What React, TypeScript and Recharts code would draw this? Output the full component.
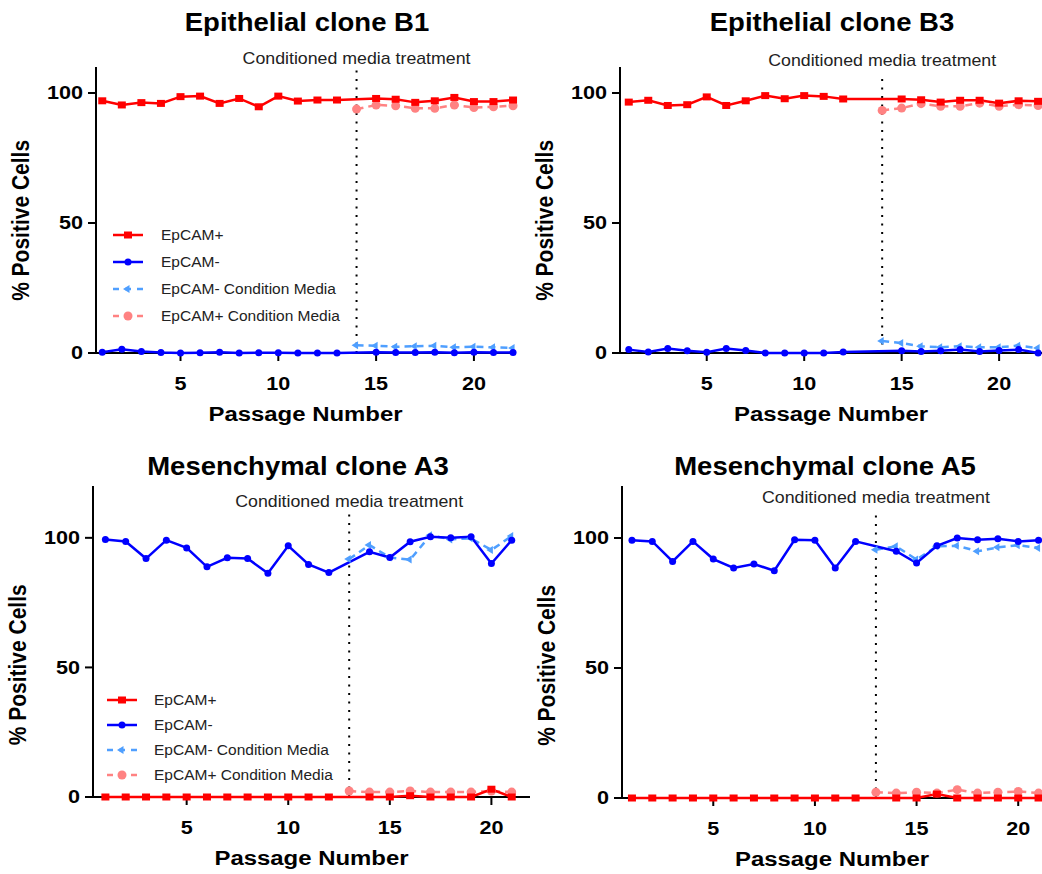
import React from "react";
import { LineChart, Line, XAxis, YAxis, ReferenceLine, Legend } from "recharts";

const FONT = "'Liberation Sans', Arial, sans-serif";
const RED = "#ff0000";
const BLUE = "#0000ff";
const LIGHT_BLUE = "#4f9fff";
const PINK = "#ff8282";
// the source figure is slightly wider than tall, text included
const SX = 1.14;
const TICK_SX = 1.2;

// passages
const epiPassages = [1, 2, 3, 4, 5, 6, 7, 8, 9, 10, 11, 12, 13, 14, 15, 16, 17, 18, 19, 20, 21, 22];
const mesPassages = [1, 2, 3, 4, 5, 6, 7, 8, 9, 10, 11, 12, 13, 14, 15, 16, 17, 18, 19, 20, 21];

// Epithelial clone B1
const b1Pos = [97.0, 95.4, 96.3, 96.0, 98.6, 98.8, 96.0, 97.9, 94.7, 98.8, 96.9, 97.3, 97.3, null, 97.9, 97.6, 96.4, 97.0, 98.3, 96.7, 96.7, 97.3];
const b1Neg = [0.3, 1.4, 0.6, 0.2, 0, 0.1, 0.3, 0, 0.1, 0.1, 0, 0, 0, null, 0.3, 0.2, 0.2, 0.3, 0.1, 0.3, 0.2, 0.2];
const b1NegCM = [null, null, null, null, null, null, null, null, null, null, null, null, null, 3.0, 2.8, 2.4, 2.6, 2.8, 2.2, 2.4, 2.2, 1.9];
const b1PosCM = [null, null, null, null, null, null, null, null, null, null, null, null, null, 93.8, 95.4, 95.1, 94.1, 94.1, 95.4, 94.4, 94.7, 95.1];

// Epithelial clone B3
const b3Pos = [96.5, 97.2, 95.2, 95.5, 98.5, 95.2, 97.0, 99.0, 97.8, 99.0, 98.7, 97.7, null, null, 97.7, 97.4, 96.5, 97.2, 97.2, 96.1, 97.0, 96.8];
const b3Neg = [1.3, 0.4, 1.7, 0.9, 0.3, 1.7, 1.0, 0, 0, 0, 0, 0.4, null, null, 0.9, 0.6, 0.9, 1.3, 0.6, 1.0, 1.3, 0];
const b3NegCM = [null, null, null, null, null, null, null, null, null, null, null, null, null, 4.6, 3.8, 2.6, 2.2, 2.6, 2.2, 2.2, 2.8, 1.9];
const b3PosCM = [null, null, null, null, null, null, null, null, null, null, null, null, null, 93.3, 94.2, 95.9, 94.9, 94.9, 96.1, 94.9, 95.5, 95.2];

// Mesenchymal clone A3
const a3Pos = [0, 0, 0, 0, 0, 0, 0, 0, 0, 0, 0, 0, null, 0, 0, 0.5, 0, 0, 0, 3.0, 0];
const a3Neg = [99.4, 98.6, 92.0, 99.1, 96.1, 88.8, 92.3, 92.0, 86.3, 96.9, 89.7, 86.6, null, 94.6, 92.4, 98.5, 100.4, 100.0, 100.4, 90.1, 99.1];
const a3NegCM = [null, null, null, null, null, null, null, null, null, null, null, null, 91.8, 97.2, 92.4, 91.6, 101.0, 99.4, 99.8, 95.3, 100.7];
const a3PosCM = [null, null, null, null, null, null, null, null, null, null, null, null, 2.3, 1.9, 1.9, 2.3, 1.9, 1.9, 1.9, 2.3, 1.9];

// Mesenchymal clone A5
const a5Pos = [0, 0, 0, 0, 0, 0, 0, 0, 0, 0, 0, 0, null, 0, 0, 1.5, 0, 0, 0, 0, 0];
const a5Neg = [99.1, 98.7, 91.0, 98.7, 91.9, 88.5, 90.0, 87.4, 99.3, 99.1, 88.5, 98.7, null, 94.9, 90.4, 97.0, 100.0, 99.3, 99.7, 98.7, 99.1];
const a5NegCM = [null, null, null, null, null, null, null, null, null, null, null, null, 95.5, 96.8, 91.7, 96.8, 97.0, 94.9, 96.4, 97.2, 96.2];
const a5PosCM = [null, null, null, null, null, null, null, null, null, null, null, null, 2.2, 1.9, 2.2, 1.9, 3.2, 1.9, 2.2, 2.5, 1.9];

const xTicks = [5, 10, 15, 20];
const yTicks = [0, 50, 100];

const buildRows = (xs: number[], pos: any[], neg: any[], posCM: any[], negCM: any[]) =>
  xs.map((x, i) => ({ x, pos: pos[i], neg: neg[i], posCM: posCM[i], negCM: negCM[i] }));

// markers
const squareDot = (p: any) =>
  p.cy == null ? <g key={p.index} /> : <rect key={p.index} x={p.cx - 4} y={p.cy - 3.5} width={8} height={7} fill={RED} />;
const circleDot = (p: any) =>
  p.cy == null ? <g key={p.index} /> : <circle key={p.index} cx={p.cx} cy={p.cy} r={3.5} fill={BLUE} />;
const arrowDot = (p: any) =>
  p.cy == null ? (
    <g key={p.index} />
  ) : (
    <path key={p.index} d={`M${p.cx - 5},${p.cy} L${p.cx + 1.5},${p.cy - 4} L${p.cx + 1.5},${p.cy + 4} Z`} fill={LIGHT_BLUE} />
  );
const bigDot = (p: any) =>
  p.cy == null ? <g key={p.index} /> : <circle key={p.index} cx={p.cx} cy={p.cy} r={4.5} fill={PINK} />;

const boldText = { fontFamily: FONT, fontWeight: 700, fill: "#000" };

const XTick = (p: any) => (
  <g transform={`translate(${p.x},${p.y}) scale(${TICK_SX},1)`}>
    <text textAnchor="middle" dy="0.71em" fontSize={18} {...boldText}>
      {p.payload.value}
    </text>
  </g>
);

const YTick = (p: any) => (
  <g transform={`translate(${p.x},${p.y}) scale(${TICK_SX},1)`}>
    <text textAnchor="end" dy="0.355em" fontSize={18} {...boldText}>
      {p.payload.value}
    </text>
  </g>
);

const legendItems = [
  { label: "EpCAM+", color: RED, dash: undefined, marker: "square" },
  { label: "EpCAM-", color: BLUE, dash: undefined, marker: "circle" },
  { label: "EpCAM- Condition Media", color: LIGHT_BLUE, dash: "6 6", marker: "arrow" },
  { label: "EpCAM+ Condition Media", color: PINK, dash: "6 6", marker: "big" },
];

const LegendBox = ({ rowH, gap }: { rowH: number; gap: number }) => (
  <div style={{ fontFamily: FONT, fontSize: 15.5, color: "#222" }}>
    {legendItems.map((it) => (
      <div key={it.label} style={{ height: rowH, display: "flex", alignItems: "center", whiteSpace: "nowrap" }}>
        <svg width={30} height={12} style={{ marginRight: gap }}>
          <line x1={0} y1={6} x2={30} y2={6} stroke={it.color} strokeWidth={2.5} strokeDasharray={it.dash} />
          {it.marker === "square" && <rect x={11} y={2.5} width={8} height={7} fill={it.color} />}
          {it.marker === "circle" && <circle cx={15} cy={6} r={3.5} fill={it.color} />}
          {it.marker === "arrow" && <path d="M10,6 L16.5,2 L16.5,10 Z" fill={it.color} />}
          {it.marker === "big" && <circle cx={15} cy={6} r={4.5} fill={it.color} />}
        </svg>
        <span>{it.label}</span>
      </div>
    ))}
  </div>
);

const YW = 92;
const TOPM = 30;
const XH = 80;

interface PanelProps {
  rows: any[];
  x0: number;
  x1: number;
  y0: number;
  y1: number;
  xDomain: [number, number];
  yMax: number;
  refX: number;
  refTop: number;
  refOffset: number;
  legend?: { left: number; top: number; rowH: number; gap: number };
}

const Panel = ({ rows, x0, x1, y0, y1, xDomain, yMax, refX, refTop, refOffset, legend }: PanelProps) => {
  const left = x0 - YW;
  const top = y0 - TOPM;
  const width = YW + (x1 - x0) + 6;
  const height = TOPM + (y1 - y0) + XH;
  const labelCenter = y1 - (51 * (y1 - y0)) / yMax;

  const xLabel = (p: any) => {
    const vb = p.viewBox;
    return (
      <g transform={`translate(${vb.x + vb.width / 2},${vb.y + vb.height - 12}) scale(${SX},1)`}>
        <text textAnchor="middle" fontSize={21} {...boldText}>
          Passage Number
        </text>
      </g>
    );
  };
  const yLabel = () => (
    <g transform={`translate(${YW - 76},${labelCenter - top}) rotate(-90) scale(1,${SX})`}>
      <text textAnchor="middle" dy="0.355em" fontSize={21} {...boldText}>
        % Positive Cells
      </text>
    </g>
  );
  const refLabel = (p: any) => {
    const vb = p.viewBox || {};
    const cx = (vb.x ?? 0) + (vb.width ?? 0) / 2;
    return (
      <g transform={`translate(${cx},${vb.y - refOffset}) scale(${SX - 0.03},1)`}>
        <text textAnchor="middle" fontSize={16} fontFamily={FONT} fill="#222">
          Conditioned media treatment
        </text>
      </g>
    );
  };

  return (
    <div style={{ position: "absolute", left, top }}>
      {/* x axis baseline sits under the svg so series at 0 are drawn over it */}
      <div
        style={{
          position: "absolute",
          left: YW - 1,
          top: TOPM + (y1 - y0) - 1,
          width: x1 - x0 + 1,
          height: 2,
          background: "#000",
        }}
      />
      <LineChart width={width} height={height} data={rows} margin={{ top: TOPM, right: 6, bottom: 0, left: 0 }}>
        <XAxis
          type="number"
          dataKey="x"
          domain={xDomain}
          ticks={xTicks}
          height={XH}
          tickSize={8}
          tickMargin={16}
          tick={XTick}
          axisLine={false}
          tickLine={{ stroke: "#000", strokeWidth: 2 }}
          label={{ position: "insideBottom", content: xLabel }}
        />
        <YAxis
          type="number"
          domain={[0, yMax]}
          ticks={yTicks}
          width={YW}
          tickSize={8}
          tickMargin={5}
          tick={YTick}
          axisLine={{ stroke: "#000", strokeWidth: 2 }}
          tickLine={{ stroke: "#000", strokeWidth: 2 }}
          label={{ position: "center", content: yLabel }}
        />
        <ReferenceLine
          segment={[{ x: refX, y: 0 }, { x: refX, y: refTop }]}
          stroke="#000"
          strokeWidth={2}
          strokeDasharray="2 6.5"
          label={{ position: "top", content: refLabel }}
        />
        {legend && (
          <Legend
            layout="vertical"
            align="center"
            verticalAlign="middle"
            wrapperStyle={{ left: legend.left, top: legend.top, width: "auto" }}
            content={() => <LegendBox rowH={legend.rowH} gap={legend.gap} />}
          />
        )}
        <Line dataKey="posCM" stroke={PINK} strokeWidth={2.5} strokeDasharray="7 5" dot={bigDot} connectNulls isAnimationActive={false} />
        <Line dataKey="negCM" stroke={LIGHT_BLUE} strokeWidth={2.5} strokeDasharray="7 5" dot={arrowDot} connectNulls isAnimationActive={false} />
        <Line dataKey="pos" stroke={RED} strokeWidth={2.5} dot={squareDot} connectNulls isAnimationActive={false} />
        <Line dataKey="neg" stroke={BLUE} strokeWidth={2.5} dot={circleDot} connectNulls isAnimationActive={false} />
      </LineChart>
    </div>
  );
};

const Title = ({ text, cx, cy }: { text: string; cx: number; cy: number }) => (
  <div
    style={{
      position: "absolute",
      left: cx - 250,
      top: cy - 15,
      width: 500,
      lineHeight: "30px",
      textAlign: "center",
      fontFamily: FONT,
      fontWeight: 700,
      fontSize: 25,
      color: "#000",
      transform: "scaleX(1.1)",
      transformOrigin: "center",
    }}
  >
    {text}
  </div>
);

export default function App() {
  return (
    <div style={{ position: "absolute", left: 0, top: 0, width: 1042, height: 874, overflow: "hidden", background: "#fff" }}>
      <Panel
        rows={buildRows(epiPassages, b1Pos, b1Neg, b1PosCM, b1NegCM)}
        x0={96} x1={515} y0={67} y1={353}
        xDomain={[0.68, 22.1]} yMax={110}
        refX={14} refTop={110} refOffset={3}
        legend={{ left: 113 - 4, top: 184, rowH: 27, gap: 18 }}
      />
      <Panel
        rows={buildRows(epiPassages, b3Pos, b3Neg, b3PosCM, b3NegCM)}
        x0={620} x1={1042} y0={67} y1={353}
        xDomain={[0.55, 22.2]} yMax={110}
        refX={14} refTop={107} refOffset={9}
      />
      <Panel
        rows={buildRows(mesPassages, a3Pos, a3Neg, a3PosCM, a3NegCM)}
        x0={93} x1={530} y0={486} y1={797}
        xDomain={[0.39, 21.9]} yMax={120}
        refX={13} refTop={110} refOffset={5}
        legend={{ left: 107 - 1, top: 231, rowH: 25, gap: 17 }}
      />
      <Panel
        rows={buildRows(mesPassages, a5Pos, a5Neg, a5PosCM, a5NegCM)}
        x0={622} x1={1042} y0={486} y1={798}
        xDomain={[0.51, 21.17]} yMax={120}
        refX={13} refTop={110} refOffset={9}
      />
      <Title text="Epithelial clone B1" cx={307} cy={22} />
      <Title text="Epithelial clone B3" cx={832} cy={22} />
      <Title text="Mesenchymal clone A3" cx={298} cy={466} />
      <Title text="Mesenchymal clone A5" cx={825} cy={466} />
    </div>
  );
}
